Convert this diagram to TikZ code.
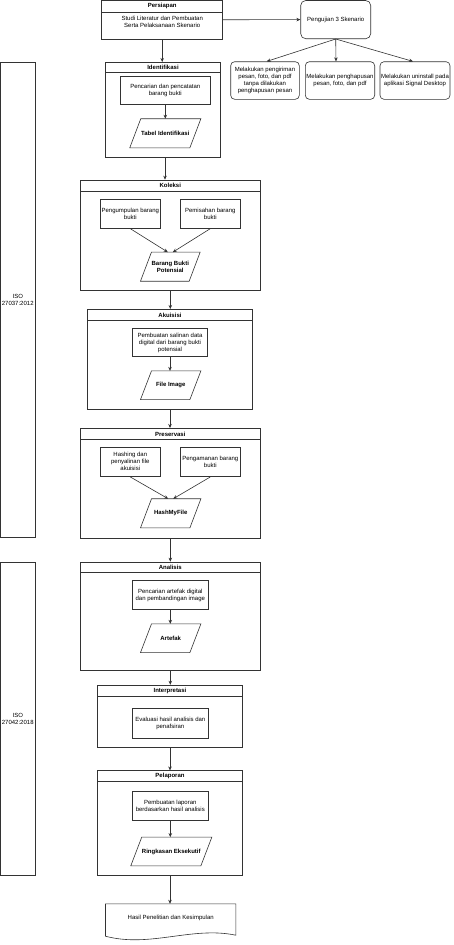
\documentclass[tikz,border=0pt]{standalone}
\usepackage{fontspec}
\setmainfont{Liberation Sans}
\usetikzlibrary{arrows.meta,calc}
\newcommand{\ftsz}{\fontsize{6}{7}\selectfont}
\newcommand{\drawpara}[1]{\draw[ln] ($(#1.north west)+(5.5,0)$) -- ($(#1.north east)+(5.5,0)$) -- ($(#1.south east)+(-5.5,0)$) -- ($(#1.south west)+(-5.5,0)$) -- cycle;}
\tikzset{
  ln/.style={draw=black!80, line width=0.6pt},
  cont/.style={ln, rectangle, inner sep=0pt},
  hdr/.style={ln, rectangle, inner sep=0pt, font=\bfseries\ftsz, anchor=north},
  proc/.style={ln, rectangle, inner sep=0pt, align=center, font=\ftsz},
  paranode/.style={inner sep=0pt, align=center, font=\bfseries\ftsz},
  arr/.style={ln, -{Stealth[length=4pt,width=3.5pt]}},
}
\begin{document}
\begin{tikzpicture}[x=1pt,y=-1pt]
\useasboundingbox (0,0) rectangle (454,945);
\fill[white] (0,0) rectangle (454,945);

% ISO boxes
\node[proc, minimum width=34.5, minimum height=475.3] (iso1) at (17.75,299.65) {ISO\\27037:2012};
\node[proc, minimum width=34.5, minimum height=313.7] (iso2) at (17.75,718.85) {ISO\\27042:2018};

% Persiapan
\node[cont, minimum width=121, minimum height=38.5] (pers) at (162.2,19.75) {};
\node[hdr, minimum width=121, minimum height=11.8] (persH) at (pers.north) {Persiapan};
\node[font=\ftsz, align=center, inner sep=0pt] (persT) at (162.2,21.5) {Studi Literatur dan Pembuatan\\Serta Pelaksanaan Skenario};

% Pengujian
\node[proc, rounded corners=5pt, minimum width=70, minimum height=38.2] (peng) at (335.7,19.6) {Pengujian 3 Skenario};
\node[proc, rounded corners=4pt, minimum width=68.6, minimum height=37.6] (s1) at (265,80.5) {Melakukan pengiriman\\pesan, foto, dan pdf\\tanpa dilakukan\\penghapusan pesan};
\node[proc, rounded corners=4pt, minimum width=69.4, minimum height=37.6] (s2) at (340,80.5) {Melakukan penghapusan\\pesan, foto, dan pdf};
\node[proc, rounded corners=4pt, minimum width=70, minimum height=37.6] (s3) at (415,80.5) {Melakukan uninstall pada\\aplikasi Signal Desktop};

% Identifikasi
\node[cont, minimum width=115.4, minimum height=95] (iden) at (163,109.8) {};
\node[hdr, minimum width=115.4, minimum height=9.7] (idenH) at (iden.north) {Identifikasi};
\node[proc, minimum width=90.7, minimum height=28] (idenA) at (165.3,90) {Pencarian dan pencatatan\\barang bukti};
\node[paranode, minimum width=59.7, minimum height=28.7] (idenB) at (165.3,133.3) {Tabel Identifikasi};
\drawpara{idenB}

% Koleksi
\node[cont, minimum width=180.7, minimum height=110.7] (kol) at (170.3,235.3) {};
\node[hdr, minimum width=180.7, minimum height=11] (kolH) at (kol.north) {Koleksi};
\node[proc, minimum width=60.7, minimum height=29.3] (kolA) at (130.3,213.7) {Pengumpulan barang\\bukti};
\node[proc, minimum width=60.7, minimum height=29.3] (kolB) at (210.3,213.7) {Pemisahan barang\\bukti};
\node[paranode, minimum width=48.3, minimum height=28.7] (kolC) at (170.3,266.7) {Barang Bukti\\Potensial};
\drawpara{kolC}

% Akuisisi
\node[cont, minimum width=165.4, minimum height=100] (aku) at (170,359.3) {};
\node[hdr, minimum width=165.4, minimum height=11.4] (akuH) at (aku.north) {Akuisisi};
\node[proc, minimum width=74.6, minimum height=28.4] (akuA) at (170,342.5) {Pembuatan salinan data\\digital dari barang bukti\\potensial};
\node[paranode, minimum width=49, minimum height=28.3] (akuB) at (170.7,385.2) {File Image};
\drawpara{akuB}

% Preservasi
\node[cont, minimum width=180.7, minimum height=110] (pres) at (170.3,483.3) {};
\node[hdr, minimum width=180.7, minimum height=11.4] (presH) at (pres.north) {Preservasi};
\node[proc, minimum width=60.7, minimum height=29.7] (presA) at (130.3,461.8) {Hashing dan\\penyalinan file\\akuisisi};
\node[proc, minimum width=60.7, minimum height=29.7] (presB) at (210.3,461.8) {Pengamanan barang\\bukti};
\node[paranode, minimum width=49, minimum height=28.7] (presC) at (170.7,513.3) {HashMyFile};
\drawpara{presC}

% Analisis
\node[cont, minimum width=180.7, minimum height=108.7] (ana) at (170.3,616.3) {};
\node[hdr, minimum width=180.7, minimum height=10.7] (anaH) at (ana.north) {Analisis};
\node[proc, minimum width=76, minimum height=28.6] (anaA) at (170.3,595) {Pencarian artefak digital\\dan pembandingan image};
\node[paranode, minimum width=49, minimum height=28.3] (anaB) at (170.7,638.2) {Artefak};
\drawpara{anaB}

% Interpretasi
\node[cont, minimum width=145.4, minimum height=62.3] (int) at (170,716.2) {};
\node[hdr, minimum width=145.4, minimum height=11] (intH) at (int.north) {Interpretasi};
\node[proc, minimum width=76, minimum height=30] (intA) at (170.3,723.3) {Evaluasi hasil analisis dan\\penafsiran};

% Pelaporan
\node[cont, minimum width=145.4, minimum height=105] (pel) at (170,823.2) {};
\node[hdr, minimum width=145.4, minimum height=11] (pelH) at (pel.north) {Pelaporan};
\node[proc, minimum width=76, minimum height=28.3] (pelA) at (170.3,805.8) {Pembuatan laporan\\berdasarkan hasil analisis};
\node[paranode, minimum width=69.7, minimum height=28.4] (pelB) at (171.3,851.5) {Ringkasan Eksekutif};
\drawpara{pelB}

% Document
\node[inner sep=0pt, font=\ftsz, minimum width=130, minimum height=28] (doc) at (170.7,918) {Hasil Penelitian dan Kesimpulan};
\draw[ln] (doc.north west) -- (doc.north east) -- ($(doc.south east)+(0,3)$)
  .. controls (192,926) and (150,948) .. ($(doc.south west)+(0,4)$) -- cycle;

% connectors
\draw[arr] (pers.east) -- (peng.west);
\draw[arr] (peng.south) -- ([xshift=1.7pt]s1.north);
\draw[arr] (peng.south) -- ([xshift=-4pt]s2.north);
\draw[arr] (peng.south) -- ([xshift=-2pt]s3.north);
\draw[arr] (pers.south) -- (pers.south |- iden.north);
\draw[arr] (idenA.south) -- (idenB.north);
\draw[arr] ([xshift=2pt]iden.south) -- ([xshift=2pt]iden.south |- kol.north);
\draw[arr] (kolA.south) -- ([xshift=-2.5pt]kolC.north);
\draw[arr] (kolB.south) -- ([xshift=2.5pt]kolC.north);
\draw[arr] (kol.south) -- (kol.south |- aku.north);
\draw[arr] (akuA.south) -- (akuA.south |- akuB.north);
\draw[arr] (aku.south) -- (aku.south |- pres.north);
\draw[arr] (presA.south) -- ([xshift=-2.5pt]presC.north);
\draw[arr] (presB.south) -- ([xshift=2.5pt]presC.north);
\draw[arr] (pres.south) -- (pres.south |- ana.north);
\draw[arr] (anaA.south) -- (anaA.south |- anaB.north);
\draw[arr] (ana.south) -- (ana.south |- int.north);
\draw[arr] (int.south) -- (int.south |- pel.north);
\draw[arr] (pelA.south) -- (pelA.south |- pelB.north);
\draw[arr] (pel.south) -- (pel.south |- doc.north);
\end{tikzpicture}
\end{document}
